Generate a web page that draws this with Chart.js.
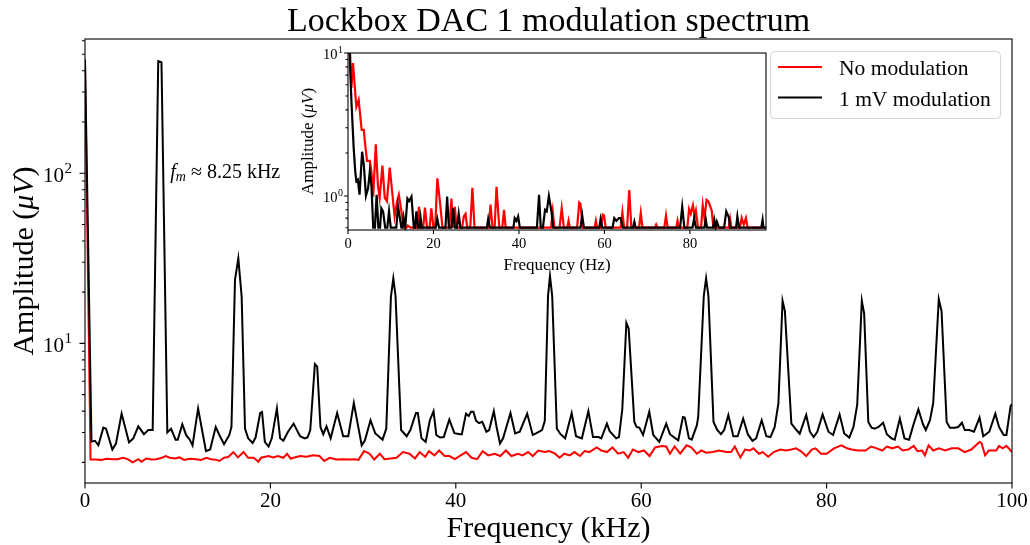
<!DOCTYPE html>
<html lang="en">
<head>
<meta charset="UTF-8">
<title>Lockbox DAC 1 modulation spectrum</title>
<script src="https://cdn.jsdelivr.net/npm/chart.js@4"></script>
<style>
  body { margin: 0; background: #fff }
  #wrap { position: relative; width: 1030px; height: 545px }
  canvas { position: absolute; left: 0; top: 0 }
</style>
</head>
<body>
<div id="wrap">
  <canvas id="main" width="1030" height="545"></canvas>
  <canvas id="inset" width="1030" height="545"></canvas>
</div>
<script>
// ---- main spectrum (kHz, uV) ----
const mainRedKHz = [0, 0.6, 1.08, 1.8, 2.3, 3.0, 3.5, 4.1, 4.6, 5.14, 5.75, 6.1, 6.6, 7.2, 7.7, 8.3, 8.7, 9.15, 9.7, 10.2,
  10.7, 11.3, 12.0, 12.5, 13.1, 13.6, 14.2, 14.5, 15.0, 15.45, 16.0, 16.5, 17.1, 17.6, 18.2, 18.7, 19.0, 19.8, 20.3, 20.8,
  21.4, 21.8, 22.2, 22.6, 23.2, 23.9, 24.6, 25.3, 25.8, 26.4, 27.1, 27.85, 28.5, 29.1, 29.5, 30.1, 30.7, 31.2, 31.8, 32.3,
  33.0, 33.6, 34.3, 35.0, 35.6, 36.1, 36.7, 37.1, 37.7, 38.2, 38.8, 39.3, 39.9, 40.4, 41.1, 41.7, 42.3, 42.9, 43.5, 44.2,
  44.8, 45.4, 46.0, 46.7, 47.2, 47.8, 48.3, 48.9, 49.6, 50.1, 50.7, 51.2, 51.7, 52.3, 52.8, 53.4, 53.9, 54.4, 55.2, 55.7,
  56.3, 56.9, 57.5, 58.1, 58.6, 59.1, 59.7, 60.3, 60.9, 61.5, 62.2, 62.7, 63.1, 63.6, 64.2, 64.9, 65.4, 66.0, 66.5, 67.0,
  67.7, 68.4, 69.2, 69.7, 70.1, 70.4, 70.7, 71.2, 71.7, 72.1, 72.7, 73.1, 73.7, 74.3, 75.0, 75.6, 76.2, 76.7, 77.2, 77.8,
  78.4, 78.8, 79.4, 80.0, 80.8, 81.6, 82.2, 82.7, 83.4, 84.2, 84.8, 85.4, 86.0, 86.5, 87.1, 87.7, 88.2, 88.8, 89.4, 89.8,
  90.3, 90.6, 91.0, 91.5, 92.1, 92.8, 93.5, 94.2, 94.9, 95.6, 96.5, 96.7, 97.1, 97.5, 98.3, 98.6, 99.0, 99.4, 100];
const mainRedUV = [430, 2.08, 2.08, 2.07, 2.1, 2.09, 2.09, 2.13, 2.09, 2.0, 2.09, 2.02, 2.11, 2.08, 2.09, 2.13, 2.18, 2.13, 2.11, 2.14,
  2.07, 2.1, 2.09, 2.07, 2.13, 2.09, 2.07, 2.04, 2.13, 2.15, 2.3, 2.14, 2.3, 2.13, 2.13, 2.02, 2.13, 2.18, 2.14, 2.18,
  2.13, 2.25, 2.1, 2.14, 2.18, 2.16, 2.2, 2.18, 2.04, 2.13, 2.08, 2.09, 2.08, 2.09, 2.07, 2.33, 2.25, 2.08, 2.25, 2.09,
  2.11, 2.13, 2.3, 2.25, 2.11, 2.3, 2.16, 2.33, 2.2, 2.35, 2.18, 2.18, 2.09, 2.18, 2.3, 2.13, 2.09, 2.33, 2.2, 2.25,
  2.18, 2.35, 2.18, 2.25, 2.2, 2.3, 2.18, 2.35, 2.3, 2.33, 2.25, 2.13, 2.25, 2.2, 2.3, 2.18, 2.33, 2.3, 2.45, 2.35,
  2.3, 2.45, 2.25, 2.3, 2.13, 2.38, 2.3, 2.35, 2.18, 2.45, 2.5, 2.48, 2.25, 2.48, 2.25, 2.52, 2.45, 2.25, 2.35, 2.28,
  2.3, 2.35, 2.3, 2.3, 2.48, 2.3, 2.14, 2.38, 2.35, 2.42, 2.25, 2.3, 2.16, 2.3, 2.38, 2.35, 2.38, 2.42, 2.33, 2.18,
  2.38, 2.42, 2.25, 2.25, 2.42, 2.52, 2.42, 2.38, 2.35, 2.35, 2.48, 2.42, 2.35, 2.48, 2.42, 2.48, 2.35, 2.38, 2.5, 2.33,
  2.35, 2.2, 2.52, 2.35, 2.42, 2.35, 2.42, 2.42, 2.3, 2.38, 2.64, 2.6, 2.2, 2.35, 2.35, 2.5, 2.42, 2.5, 2.3];

const mainModKHz = [0, 0.7, 1.08, 1.44, 1.98, 2.27, 2.95, 3.34, 3.95, 4.75, 5.21, 5.75, 6.36, 6.83, 7.3, 7.9, 8.25, 8.88, 9.28, 9.78,
  10.0, 10.5, 10.9, 11.3, 11.6, 12.2, 13.05, 13.5, 14.1, 14.56, 15.0, 15.57, 15.8, 16.18, 16.54, 16.9, 17.26, 17.6, 18.08, 18.4,
  18.9, 19.1, 19.4, 19.8, 20.15, 20.7, 21.05, 21.4, 21.9, 22.5, 23.2, 23.7, 24.0, 24.3, 24.8, 25.05, 25.4, 25.7, 26.05, 26.5,
  27.2, 27.85, 28.4, 29.0, 29.85, 30.2, 30.8, 31.3, 32.1, 32.5, 33.0, 33.26, 33.5, 34.1, 34.7, 35.1, 35.7, 35.9, 36.3, 36.75,
  37.2, 37.6, 37.9, 38.3, 38.7, 39.3, 39.85, 40.45, 40.65, 41.1, 41.4, 41.64, 41.9, 42.18, 42.5, 42.86, 43.3, 43.6, 44.1, 44.4,
  44.77, 45.1, 45.9, 46.4, 46.9, 47.7, 48.3, 48.7, 49.3, 49.6, 49.95, 50.16, 50.4, 50.9, 51.3, 51.8, 52.5, 52.97, 53.6, 54.3,
  54.8, 55.4, 55.7, 56.3, 56.6, 57.3, 57.6, 57.96, 58.4, 58.65, 59.26, 59.5, 59.8, 60.2, 60.87, 61.3, 61.95, 62.7, 63.1, 63.7,
  64.0, 64.5, 64.7, 65.15, 65.45, 66.0, 66.15, 66.75, 67.0, 67.25, 67.8, 68.2, 68.6, 68.95, 69.4, 69.94, 70.4, 71.0, 71.5, 72.0,
  72.4, 73.0, 73.5, 73.95, 74.4, 74.8, 75.25, 75.5, 76.2, 76.75, 77.1, 77.8, 78.2, 78.6, 79.0, 79.57, 80.2, 80.7, 81.4, 81.9,
  82.45, 82.9, 83.3, 83.8, 84.05, 84.5, 84.85, 85.2, 85.6, 86.1, 86.5, 87.0, 87.35, 87.9, 88.4, 88.9, 89.4, 89.9, 90.4, 90.7,
  91.15, 91.5, 92.1, 92.4, 92.95, 93.3, 93.85, 94.2, 94.6, 94.9, 95.4, 95.9, 96.5, 96.9, 97.55, 98.2, 98.6, 99.1, 99.4, 99.85, 100];
const mainModUV = [466, 2.65, 2.68, 2.52, 3.2, 3.15, 2.38, 2.58, 3.87, 2.62, 2.77, 3.26, 2.93, 3.1, 3.1, 455, 448, 3.0, 3.15, 2.72,
  2.72, 3.35, 2.9, 2.72, 2.52, 4.15, 2.33, 2.38, 3.23, 2.85, 2.56, 2.9, 3.23, 23.6, 31.6, 18.8, 3.16, 2.77, 2.6, 2.8,
  3.9, 3.95, 2.64, 2.48, 2.77, 4.15, 2.77, 2.68, 3.03, 3.38, 2.85, 2.77, 2.8, 3.1, 7.55, 7.3, 3.23, 2.93, 3.26, 2.77,
  3.9, 2.85, 2.85, 4.47, 2.52, 2.7, 3.54, 2.97, 2.72, 3.16, 18.8, 24.1, 19, 3.1, 2.85, 3.1, 3.9, 3.9, 2.77, 2.64,
  3.54, 4.0, 2.9, 2.8, 2.82, 3.57, 2.97, 2.93, 2.93, 3.87, 3.75, 3.97, 3.97, 3.52, 3.4, 3.46, 3.03, 3.1, 4.0, 3.23,
  2.58, 2.77, 3.9, 2.96, 3.03, 3.87, 2.9, 2.97, 3.1, 3.5, 19, 24.9, 19, 3.16, 2.93, 2.77, 3.9, 2.85, 2.77, 4.0,
  2.82, 2.82, 2.77, 3.38, 3.05, 2.77, 2.82, 4.1, 13.2, 12.2, 3.46, 3.23, 3.2, 2.9, 3.97, 2.9, 2.64, 3.38, 2.93, 2.77,
  2.7, 3.7, 3.67, 2.77, 2.72, 3.3, 3.7, 19, 24.1, 19, 3.46, 3.1, 2.93, 3.1, 3.8, 2.85, 2.85, 3.62, 2.93, 2.68,
  2.77, 3.54, 2.85, 2.82, 3.23, 4.45, 17.8, 15.5, 3.38, 3.1, 2.95, 3.8, 3.03, 2.82, 3.03, 3.83, 3.03, 2.9, 3.83, 2.96,
  2.8, 3.23, 4.35, 17.8, 15, 3.46, 3.2, 3.16, 3.23, 3.42, 2.93, 2.77, 2.72, 3.62, 2.77, 2.72, 3.38, 4.1, 3.35, 3.1,
  3.54, 4.45, 18.2, 15.5, 3.46, 3.2, 3.2, 3.23, 3.42, 3.1, 3.1, 3.03, 3.67, 2.85, 3.03, 3.87, 3.23, 2.9, 2.9, 4.3, 4.4];

// ---- inset, low frequency (Hz, uV) ----
const insetRedHz = [0.3, 0.8, 1.17, 1.95, 2.3, 2.5, 2.8, 3.2, 3.7, 3.95, 4.45, 5.1, 5.5, 5.9, 6.5, 7.0, 7.4, 8.05, 8.6, 9.1,
  9.77, 10.4, 10.9, 11.5, 11.9, 12.5, 13.0, 13.7, 14.0, 14.6, 16.2, 16.6, 17.0, 17.6, 18.0, 18.5, 19.1, 19.5, 20.0, 20.4,
  20.9, 21.5, 22.1, 23.7, 24.2, 24.6, 25.0, 25.4, 26.7, 27.1, 27.5, 27.9, 28.6, 29.1, 29.6, 32.9, 33.35, 33.8, 34.3, 34.75,
  35.4, 36.1, 36.5, 36.9, 47.5, 47.9, 48.3, 49.5, 50.0, 50.5, 51.3, 51.6, 51.9, 53.6, 54.1, 54.4, 54.9, 57.7, 58.0, 58.3,
  59.2, 59.6, 59.9, 60.3, 63.8, 64.2, 64.6, 65.3, 65.8, 66.3, 68.1, 68.5, 68.9, 71.8, 72.1, 72.4, 74.0, 74.4, 74.8, 76.8,
  77.1, 77.4, 79.4, 79.8, 80.2, 80.7, 81.1, 81.4, 81.9, 82.6, 83.0, 83.4, 83.9, 84.3, 85.1, 85.5, 89.1, 89.4, 89.7, 91.7,
  92.1, 92.6, 93.1, 93.5, 97.8];
const insetRedUV = [14, 5.7, 8.5, 4.2, 4.5, 4.7, 3.8, 2.9, 2.9, 2.4, 1.76, 1.76, 1.48, 0.99, 2.3, 1.19, 0.97, 1.63, 0.97, 0.92,
  1.58, 1.02, 0.72, 0.92, 1.02, 0.78, 0.6, 0.6, 0.62, 0.6, 0.6, 0.84, 0.6, 0.6, 0.83, 0.6, 0.6, 0.82, 0.6, 0.6,
  1.33, 0.92, 0.6, 0.6, 0.96, 0.6, 0.84, 0.6, 0.6, 0.72, 0.75, 0.6, 0.6, 1.14, 0.6, 0.6, 0.87, 0.6, 0.6, 1.16,
  0.6, 0.6, 0.8, 0.6, 0.6, 0.78, 0.6, 0.6, 0.82, 0.6, 0.6, 0.67, 0.6, 0.6, 0.9, 0.88, 0.6, 0.6, 0.67, 0.6,
  0.6, 0.74, 0.73, 0.6, 0.6, 0.77, 0.6, 0.6, 1.1, 0.6, 0.6, 0.76, 0.6, 0.6, 0.63, 0.6, 0.6, 0.73, 0.6, 0.6,
  0.67, 0.6, 0.6, 0.81, 0.75, 0.86, 0.72, 0.79, 0.6, 0.6, 0.86, 0.7, 0.94, 0.92, 0.79, 0.6, 0.6, 0.69, 0.6, 0.6,
  0.7, 0.63, 0.7, 0.6, 0.6];

const insetModHz = [0.2, 0.8, 1.33, 1.7, 1.95, 2.3, 2.7, 3.3, 3.7, 4.2, 4.7, 5.1, 5.5, 5.9, 6.3, 6.7, 7.1, 7.5, 7.8, 8.2,
  8.7, 9.2, 9.6, 10.0, 11.3, 11.7, 12.1, 12.5, 12.7, 13.0, 13.4, 13.9, 14.3, 14.85, 15.4, 15.7, 16.0, 16.4, 16.8, 17.0,
  17.3, 20.5, 20.9, 21.3, 22.8, 23.2, 23.6, 24.2, 24.6, 25.0, 25.5, 25.9, 26.3, 32.5, 32.8, 33.2, 38.7, 39.0, 39.4, 39.8,
  40.2, 44.2, 44.7, 45.1, 45.6, 46.1, 46.5, 47.0, 47.6, 48.0, 54.4, 54.8, 55.2, 58.8, 59.1, 59.5, 61.9, 62.3, 62.8, 63.4,
  63.8, 64.3, 66.7, 67.0, 67.3, 77.7, 78.2, 78.7, 80.6, 81.0, 81.4, 83.4, 83.7, 84.0, 85.4, 85.7, 86.0, 86.3, 86.8, 88.0,
  88.5, 89.1, 89.4, 90.8, 91.1, 91.5, 96.7, 97.0, 97.2, 97.8];
const insetModUV = [14, 4.6, 2.16, 1.48, 1.27, 1.3, 1.02, 2.04, 1.65, 1.0, 1.13, 1.48, 1.17, 0.6, 0.6, 1.02, 0.6, 0.6, 0.82, 0.78,
  0.6, 0.6, 0.78, 0.6, 0.6, 0.85, 0.71, 0.6, 0.6, 0.71, 0.6, 0.96, 0.92, 0.99, 0.6, 0.6, 0.78, 0.6, 0.6, 0.7,
  0.6, 0.6, 0.69, 0.6, 0.6, 0.99, 0.6, 0.6, 0.82, 0.6, 0.6, 0.75, 0.6, 0.6, 0.69, 0.6, 0.6, 0.7, 0.67, 0.72,
  0.6, 0.6, 1.02, 0.6, 0.6, 0.8, 0.78, 1.0, 0.78, 0.6, 0.6, 0.73, 0.6, 0.6, 0.69, 0.6, 0.6, 0.7, 0.67, 0.7,
  0.7, 0.6, 0.6, 0.66, 0.6, 0.6, 0.84, 0.6, 0.6, 0.7, 0.6, 0.6, 0.69, 0.6, 0.6, 0.68, 0.6, 0.66, 0.6, 0.6,
  0.78, 0.71, 0.6, 0.6, 0.72, 0.6, 0.6, 0.68, 0.6, 0.6];

// ---- ticks ----
const mainXTicks = [0, 20, 40, 60, 80, 100];
const mainYMajor = [10, 100];
const mainYMinor = [2, 3, 4, 5, 6, 7, 8, 9, 20, 30, 40, 50, 60, 70, 80, 90, 200, 300, 400, 500, 600];
const insetXTicks = [0, 20, 40, 60, 80];
const insetYMajor = [1, 10];
const insetYMinor = [0.6, 0.7, 0.8, 0.9, 2, 3, 4, 5, 6, 7, 8, 9];

const SERIF = "'Liberation Serif', 'Times New Roman', 'DejaVu Serif', serif";
const RED = '#ff0000';

function pts(xs, ys) {
  return xs.map((x, i) => ({ x: x, y: ys[i] }));
}

// text made of normal / italic / subscript pieces
function drawRuns(ctx, runs, x, y, size, align) {
  let total = 0;
  runs.forEach(r => {
    const s = r.sub ? size * 0.7 : size;
    ctx.font = (r.it ? 'italic ' : '') + s + 'px ' + SERIF;
    r.w = ctx.measureText(r.t).width;
    total += r.w;
  });
  let cx = align === 'center' ? x - total / 2 : x;
  ctx.textAlign = 'left';
  runs.forEach(r => {
    const s = r.sub ? size * 0.7 : size;
    ctx.font = (r.it ? 'italic ' : '') + s + 'px ' + SERIF;
    ctx.fillText(r.t, cx, r.sub ? y + size * 0.22 : y);
    cx += r.w;
  });
}

function powLabel(ctx, exp, xRight, y, size) {
  ctx.textAlign = 'left';
  ctx.textBaseline = 'alphabetic';
  ctx.font = Math.round(size * 0.7) + 'px ' + SERIF;
  const we = ctx.measureText(exp).width;
  ctx.fillText(exp, xRight - we, y - size * 0.42);
  ctx.font = size + 'px ' + SERIF;
  const w10 = ctx.measureText('10').width;
  ctx.fillText('10', xRight - we - w10 - 0.5, y);
}

function axesPlugin(c) {
  return {
    id: 'axes_' + c.name,
    beforeDatasetsDraw(chart) {
      const a = chart.chartArea, ctx = chart.ctx;
      ctx.save();
      ctx.fillStyle = '#fff';
      ctx.fillRect(a.left, a.top, a.right - a.left, a.bottom - a.top);
      ctx.restore();
    },
    afterDraw(chart) {
      const a = chart.chartArea, ctx = chart.ctx;
      const xs = chart.scales.x, ys = chart.scales.y;
      ctx.save();
      ctx.strokeStyle = '#000';
      ctx.fillStyle = '#000';
      ctx.lineWidth = 1.1;
      ctx.strokeRect(a.left, a.top, a.right - a.left, a.bottom - a.top);
      ctx.beginPath();
      c.xTicks.forEach(v => {
        const px = xs.getPixelForValue(v);
        ctx.moveTo(px, a.bottom);
        ctx.lineTo(px, a.bottom + c.major);
      });
      c.yMajor.forEach(v => {
        const py = ys.getPixelForValue(v);
        ctx.moveTo(a.left, py);
        ctx.lineTo(a.left - c.major, py);
      });
      c.yMinor.forEach(v => {
        const py = ys.getPixelForValue(v);
        ctx.moveTo(a.left, py);
        ctx.lineTo(a.left - c.minor, py);
      });
      ctx.stroke();

      ctx.font = c.tick + 'px ' + SERIF;
      ctx.textAlign = 'center';
      ctx.textBaseline = 'alphabetic';
      c.xTicks.forEach(v => {
        ctx.fillText(String(v), xs.getPixelForValue(v), a.bottom + c.xTickBase);
      });
      c.yMajor.forEach(v => {
        const py = ys.getPixelForValue(v);
        powLabel(ctx, String(Math.round(Math.log10(v))), a.left - c.yTickPad, py + c.tick * 0.4, c.tick);
      });

      ctx.textBaseline = 'alphabetic';
      drawRuns(ctx, [{ t: c.xLabel }], (a.left + a.right) / 2, c.xLabelBase, c.label, 'center');
      ctx.save();
      ctx.translate(c.yLabelX, (a.top + a.bottom) / 2);
      ctx.rotate(-Math.PI / 2);
      drawRuns(ctx, [{ t: 'Amplitude (' }, { t: 'μV', it: true }, { t: ')' }], 0, 0, c.label, 'center');
      ctx.restore();
      ctx.restore();
    }
  };
}

const mainExtras = {
  id: 'mainExtras',
  afterDraw(chart) {
    const a = chart.chartArea, ctx = chart.ctx;
    const xs = chart.scales.x, ys = chart.scales.y;
    ctx.save();
    ctx.fillStyle = '#000';
    ctx.textBaseline = 'alphabetic';
    // title
    ctx.font = '34px ' + SERIF;
    ctx.textAlign = 'center';
    ctx.fillText('Lockbox DAC 1 modulation spectrum', (a.left + a.right) / 2, 31);
    // annotation
    ctx.textBaseline = 'middle';
    drawRuns(ctx, [{ t: 'f', it: true }, { t: 'm', it: true, sub: true }, { t: ' ≈ 8.25 kHz' }],
      xs.getPixelForValue(9.2), ys.getPixelForValue(100), 20, 'left');
    // legend
    ctx.textBaseline = 'alphabetic';
    ctx.beginPath();
    ctx.roundRect(770.5, 51.5, 230, 67, 4);
    ctx.fillStyle = 'rgba(255,255,255,0.8)';
    ctx.fill();
    ctx.strokeStyle = '#d5d5d5';
    ctx.lineWidth = 1;
    ctx.stroke();
    [0, 1].forEach((i, k) => {
      const ds = chart.data.datasets[i];
      const yy = 67 + k * 30.5;
      ctx.strokeStyle = ds.borderColor;
      ctx.lineWidth = 2;
      ctx.beginPath();
      ctx.moveTo(778, yy);
      ctx.lineTo(822, yy);
      ctx.stroke();
      ctx.fillStyle = '#000';
      ctx.font = '21.5px ' + SERIF;
      ctx.textAlign = 'left';
      ctx.fillText(ds.label, 839, yy + 8);
    });
    ctx.restore();
  }
};

function lineSets(redX, redY, modX, modY, w) {
  return [
    { label: 'No modulation', data: pts(redX, redY), borderColor: RED, borderWidth: w, pointRadius: 0, tension: 0, order: 1 },
    { label: '1 mV modulation', data: pts(modX, modY), borderColor: '#000', borderWidth: w, pointRadius: 0, tension: 0, order: 0 }
  ];
}

function baseOptions(pad, xr, yr) {
  return {
    responsive: false,
    animation: false,
    events: [],
    layout: { padding: pad },
    plugins: { legend: { display: false }, tooltip: { enabled: false } },
    scales: {
      x: { type: 'linear', min: xr[0], max: xr[1], display: false },
      y: { type: 'logarithmic', min: yr[0], max: yr[1], display: false }
    }
  };
}

new Chart(document.getElementById('main'), {
  type: 'line',
  data: { datasets: lineSets(mainRedKHz, mainRedUV, mainModKHz, mainModUV, 2) },
  options: baseOptions({ left: 85, right: 18, top: 39, bottom: 62 }, [0, 100], [1.514, 614]),
  plugins: [axesPlugin({
    name: 'main', xTicks: mainXTicks, yMajor: mainYMajor, yMinor: mainYMinor,
    major: 5.5, minor: 3, tick: 21, xTickBase: 24, yTickPad: 13,
    xLabel: 'Frequency (kHz)', xLabelBase: 537, yLabelX: 33, label: 30
  }), mainExtras]
});

new Chart(document.getElementById('inset'), {
  type: 'line',
  data: { datasets: lineSets(insetRedHz, insetRedUV, insetModHz, insetModUV, 2.2) },
  options: baseOptions({ left: 348, right: 264, top: 53, bottom: 315 }, [0, 97.8], [0.578, 10]),
  plugins: [axesPlugin({
    name: 'inset', xTicks: insetXTicks, yMajor: insetYMajor, yMinor: insetYMinor,
    major: 4, minor: 2.5, tick: 14.5, xTickBase: 18, yTickPad: 5,
    xLabel: 'Frequency (Hz)', xLabelBase: 270, yLabelX: 313, label: 17
  })]
});
</script>
</body>
</html>
